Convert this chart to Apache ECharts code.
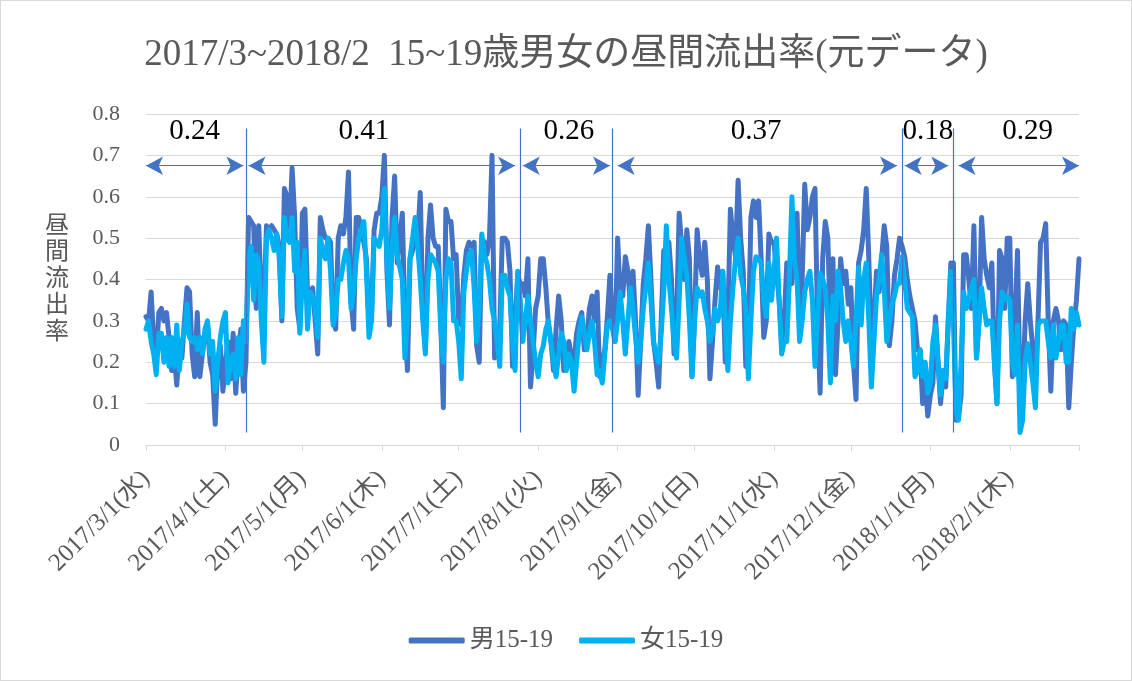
<!DOCTYPE html>
<html>
<head>
<meta charset="utf-8">
<title>15~19歳男女の昼間流出率</title>
<script src="https://cdn.jsdelivr.net/npm/echarts@6/dist/echarts.min.js"></script>
<style>
  html, body { margin: 0; padding: 0; background: #fff; }
  #chart { width: 1130px; height: 679px; border: 1px solid #d9d9d9; }
</style>
</head>
<body>
<div id="chart"></div>
<script>
// 日付 2017/3/1 から 365日
const startDay = [2017, 3, 1];
const dayCount = 365;
const weekNames = ['日', '月', '火', '水', '木', '金', '土'];

// 男15-19 (月ごと)
const male = [
  // 3月
  .31,.30,.37,.25,.21,.32,.33,.30,.32,.26, .18,.22,.145,.24,.21,.30,.38,.37,.22,.165,
  .32,.165,.22,.27,.29,.20,.17,.05,.20,.24, .13,
  // 4月
  .20,.25,.16,.27,.125,.22,.28,.13,.20,.55, .54,.53,.33,.53,.35,.33,.53,.52,.53,.52,
  .51,.48,.30,.62,.60,.52,.67,.55,.33,.28,
  // 5月
  .56,.57,.37,.36,.38,.30,.22,.55,.52,.50, .50,.49,.30,.28,.50,.53,.51,.55,.66,.35,
  .28,.55,.55,.52,.49,.45,.29,.32,.52,.56, .56,
  // 6月
  .60,.70,.42,.29,.55,.65,.44,.50,.56,.30, .18,.45,.47,.49,.50,.61,.32,.23,.50,.58,
  .50,.48,.48,.30,.09,.57,.54,.54,.45,.46,
  // 7月
  .30,.29,.41,.47,.49,.48,.49,.24,.20,.50, .49,.46,.50,.70,.21,.25,.28,.50,.50,.49,
  .42,.19,.30,.41,.39,.39,.36,.45,.14,.22, .33,
  // 8月
  .36,.45,.45,.38,.29,.25,.18,.28,.36,.30, .18,.22,.25,.21,.20,.27,.30,.32,.23,.26,
  .33,.36,.30,.37,.165,.20,.23,.31,.41,.30, .25,
  // 9月
  .50,.36,.36,.455,.42,.34,.42,.30,.12,.25, .39,.45,.53,.40,.25,.20,.14,.30,.47,.45,
  .49,.40,.22,.30,.56,.48,.40,.52,.45,.165,
  // 10月
  .30,.52,.45,.41,.49,.40,.16,.25,.35,.43, .38,.42,.20,.30,.57,.50,.455,.64,.50,.42,
  .19,.25,.55,.59,.55,.59,.45,.26,.30,.51, .49,
  // 11月
  .49,.42,.35,.25,.30,.44,.43,.39,.50,.56, .31,.40,.63,.52,.55,.60,.62,.30,.125,.45,
  .54,.50,.30,.45,.17,.30,.45,.39,.42,.34,
  // 12月
  .38,.20,.11,.44,.47,.52,.62,.45,.24,.30, .42,.37,.45,.53,.48,.24,.30,.41,.45,.50,
  .48,.455,.40,.36,.33,.30,.23,.23,.10,.15, .07,
  // 1月
  .12,.15,.31,.20,.10,.18,.14,.30,.44,.44, .06,.068,.12,.46,.46,.40,.33,.53,.21,.30,
  .55,.45,.41,.38,.44,.20,.10,.47,.45,.33, .50,
  // 2月
  .50,.165,.30,.47,.13,.125,.30,.39,.30,.23, .165,.30,.49,.50,.535,.30,.13,.30,.33,.30,
  .23,.30,.29,.09,.20,.29,.35,.45
];

// 女15-19 (月ごと)
const female = [
  // 3月
  .28,.30,.25,.22,.17,.27,.27,.20,.26,.19, .26,.19,.29,.18,.25,.27,.34,.26,.25,.26,
  .23,.26,.22,.28,.30,.22,.25,.13,.20,.26, .30,
  // 4月
  .32,.15,.20,.22,.16,.26,.17,.30,.25,.45, .48,.35,.46,.44,.30,.20,.50,.52,.50,.47,
  .51,.45,.31,.55,.50,.49,.55,.42,.49,.27,
  // 5月
  .40,.47,.28,.37,.36,.33,.26,.50,.47,.45, .50,.42,.29,.32,.40,.40,.44,.47,.45,.33,
  .37,.45,.50,.52,.54,.42,.26,.30,.50,.49, .48,
  // 6月
  .52,.62,.45,.33,.48,.55,.46,.43,.40,.21, .30,.45,.50,.55,.48,.40,.30,.22,.40,.46,
  .45,.44,.42,.28,.20,.40,.45,.44,.30,.30,
  // 7月
  .25,.16,.37,.42,.46,.47,.38,.25,.33,.51, .46,.44,.40,.33,.30,.25,.19,.41,.41,.38,
  .36,.25,.18,.42,.35,.25,.30,.36,.30,.25, .20,
  // 8月
  .165,.22,.24,.28,.30,.25,.20,.165,.22,.27, .25,.18,.22,.20,.13,.20,.27,.31,.27,.23,
  .27,.30,.25,.17,.18,.15,.22,.29,.30,.28, .25,
  // 9月
  .30,.37,.30,.22,.30,.38,.33,.26,.20,.25, .33,.38,.44,.35,.25,.22,.20,.27,.37,.53,
  .40,.33,.25,.21,.35,.50,.45,.41,.30,.165,
  // 10月
  .30,.38,.36,.37,.33,.30,.25,.27,.33,.30, .32,.42,.30,.18,.30,.38,.45,.50,.41,.38,
  .33,.16,.30,.42,.455,.45,.44,.35,.31,.44, .35,
  // 11月
  .42,.50,.35,.22,.25,.25,.40,.60,.45,.40, .25,.30,.37,.40,.42,.35,.19,.30,.415,.40,
  .38,.30,.15,.36,.30,.42,.38,.30,.25,.30,
  // 12月
  .25,.19,.30,.43,.29,.40,.44,.30,.14,.25, .36,.40,.46,.38,.25,.30,.34,.36,.39,.39,
  .455,.40,.33,.32,.31,.165,.18,.23,.165,.20, .125,
  // 1月
  .15,.25,.29,.20,.12,.18,.16,.30,.42,.30, .085,.06,.20,.37,.33,.35,.38,.40,.21,.30,
  .38,.33,.29,.30,.30,.20,.10,.30,.37,.35, .36,
  // 2月
  .35,.20,.17,.29,.03,.06,.20,.245,.20,.15, .09,.29,.30,.30,.30,.25,.21,.29,.21,.25,
  .29,.29,.20,.20,.33,.28,.32,.29
];

// 期間 (日のindex) と平均値ラベル
const periods = [
  { from: 0,   to: 38,  labelAt: 19,  text: '0.24' },
  { from: 40,  to: 144, labelAt: 85,  text: '0.41' },
  { from: 147, to: 181, labelAt: 165, text: '0.26' },
  { from: 184, to: 293, labelAt: 238, text: '0.37' },
  { from: 296, to: 313, labelAt: 305, text: '0.18' },
  { from: 317, to: 364, labelAt: 344, text: '0.29' }
];
// 区切り線
const dividers = [39, 146, 182, 295, 315];

const dates = [];
for (let i = 0; i < dayCount; i++) {
  const d = new Date(startDay[0], startDay[1] - 1, startDay[2] + i);
  dates.push(d.getFullYear() + '/' + (d.getMonth() + 1) + '/' + d.getDate());
}
function isMonthStart(v) {
  return v.split('/')[2] === '1';
}
function withWeekday(v) {
  const p = v.split('/').map(Number);
  return v + '(' + weekNames[new Date(p[0], p[1] - 1, p[2]).getDay()] + ')';
}

const serif = "'Liberation Serif', 'Noto Sans CJK JP', serif";
const grey = '#595959';
const blue = '#4472C4';
const lightBlue = '#00B0F0';
const arrowY = 0.675;

const markLines = [];
dividers.forEach(function (i) {
  markLines.push([
    { coord: [dates[i], 0.765], symbol: 'none' },
    { coord: [dates[i], 0.03], symbol: 'none' }
  ]);
});
periods.forEach(function (p) {
  markLines.push([
    { coord: [dates[p.from], arrowY], symbol: 'arrow' },
    { coord: [dates[p.to], arrowY], symbol: 'arrow' }
  ]);
});

let chart = echarts.init(document.getElementById('chart'));
chart.setOption({
  animation: false,
  textStyle: { fontFamily: serif },
  title: {
    text: '2017/3~2018/2  15~19歳男女の昼間流出率(元データ)',
    left: 'center',
    top: 31,
    textStyle: { fontFamily: serif, fontSize: 37, fontWeight: 'normal', color: grey }
  },
  legend: {
    bottom: 22,
    left: 'center',
    icon: 'roundRect',
    itemWidth: 56,
    itemHeight: 6,
    itemGap: 26,
    data: ['男15-19', '女15-19'],
    textStyle: { fontFamily: serif, fontSize: 25, color: grey }
  },
  grid: { left: 145, right: 52, top: 113, bottom: 235 },
  xAxis: {
    type: 'category',
    boundaryGap: false,
    data: dates,
    axisLine: { lineStyle: { color: '#d9d9d9', width: 1 } },
    axisTick: {
      length: 6,
      lineStyle: { color: '#d9d9d9' },
      interval: function (index, value) { return isMonthStart(value) || index === dayCount - 1; }
    },
    axisLabel: {
      rotate: 45,
      margin: 30,
      fontFamily: serif,
      fontSize: 25,
      color: grey,
      interval: function (index, value) { return isMonthStart(value); },
      formatter: withWeekday
    },
    splitLine: { show: false }
  },
  yAxis: {
    type: 'value',
    min: 0,
    max: 0.8,
    interval: 0.1,
    name: '昼\n間\n流\n出\n率',
    nameLocation: 'middle',
    nameRotate: 0,
    nameGap: 77,
    nameTextStyle: { fontFamily: serif, fontSize: 24, lineHeight: 26.5, color: grey },
    axisLine: { show: false },
    axisTick: { show: false },
    axisLabel: { margin: 26, fontFamily: serif, fontSize: 22, color: grey },
    splitLine: { lineStyle: { color: '#d9d9d9', width: 1 } }
  },
  series: [
    {
      name: '男15-19',
      type: 'line',
      data: male,
      symbol: 'none',
      lineStyle: { width: 5, color: blue, join: 'round', cap: 'round' },
      itemStyle: { color: blue }
    },
    {
      name: '女15-19',
      type: 'line',
      data: female,
      symbol: 'none',
      lineStyle: { width: 5, color: lightBlue, join: 'round', cap: 'round' },
      itemStyle: { color: lightBlue },
      markLine: {
        silent: true,
        symbolSize: [14, 17],
        label: { show: false },
        lineStyle: { color: blue, width: 1.2, type: 'solid' },
        emphasis: { disabled: true },
        data: markLines
      },
      markPoint: {
        silent: true,
        symbol: 'rect',
        symbolSize: 1,
        itemStyle: { color: 'rgba(0,0,0,0)' },
        label: {
          show: true,
          position: 'inside',
          formatter: '{c}',
          fontFamily: serif,
          fontSize: 29,
          color: '#000'
        },
        data: periods.map(function (p) {
          return { coord: [dates[p.labelAt], 0.757], value: p.text };
        })
      }
    }
  ]
});
</script>
</body>
</html>
